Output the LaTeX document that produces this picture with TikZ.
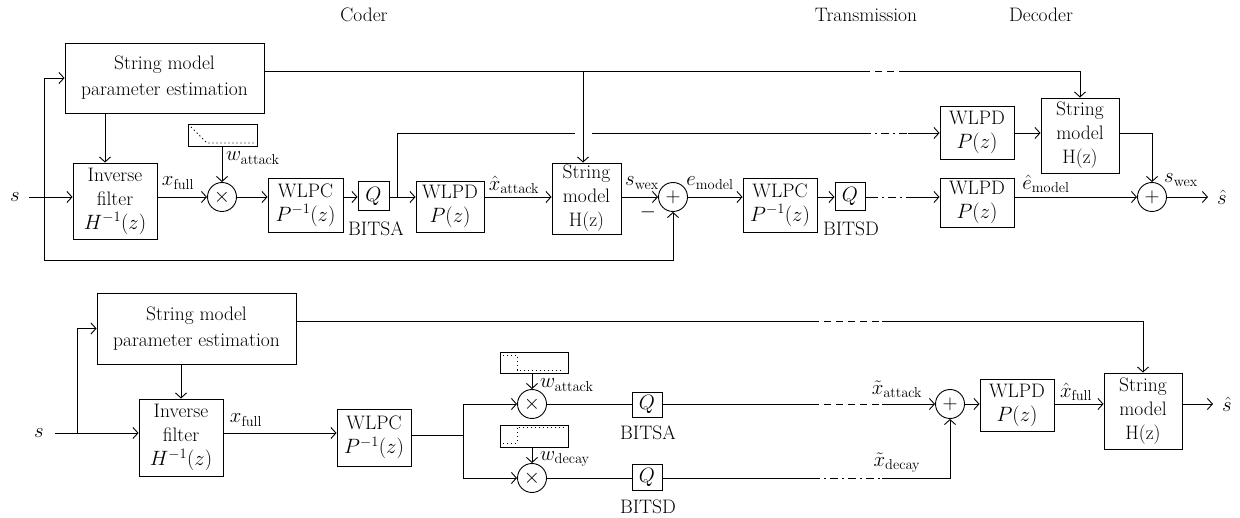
\documentclass[tikz,border=0pt]{standalone}
\usetikzlibrary{arrows.meta}
\newcommand\fsz{\fontsize{19.5}{24}\selectfont}
\tikzset{
 blk/.style={draw, line width=0.9pt, align=center, inner sep=0pt, font=\fsz},
 sumc/.style={circle, draw, line width=0.9pt, minimum size=29pt, inner sep=0pt, font=\fsz},
 lbl/.style={font=\fsz, inner sep=0pt},
 ln/.style={line width=0.9pt},
 arr/.style={ln, -{Straight Barb[length=5pt,width=11pt]}},
 dsh/.style={ln, dash pattern=on 7pt off 5pt},
 dshdot/.style={ln, dash pattern=on 8pt off 4pt on 2pt off 4pt},
 dots/.style={line width=0.9pt, dash pattern=on 1.2pt off 2.8pt},
}
\begin{document}
\begin{tikzpicture}[x=1pt,y=-1pt]
\useasboundingbox (0,0) rectangle (1240,518);

% titles
\node[lbl] (tcoder) at (364,15) {Coder};
\node[lbl] (ttrans) at (866,15) {Transmission};
\node[lbl] (tdec) at (1041,15) {Decoder};

% ===== top diagram =====
\node[blk, minimum width=199pt, minimum height=70pt] (pe1) at (164.5,78) {String model\\[2pt]parameter estimation};
\node[blk, minimum width=84pt, minimum height=76pt] (inv1) at (115,201) {Inverse\\filter\\$H^{-1}(z)$};
\node[blk, minimum width=69pt, minimum height=22pt] (win1) at (222.5,135) {};
\node[sumc] (mul1) at (222,197) {$\times$};
\node[blk, minimum width=75pt, minimum height=54pt] (wlpc1) at (305.5,205) {WLPC\\$P^{-1}(z)$};
\node[blk, minimum width=31pt, minimum height=29pt] (q1) at (373.5,196) {$Q$};
\node[lbl] (bitsa1) at (376,229) {BITSA};
\node[blk, minimum width=68pt, minimum height=51pt] (wlpd1) at (450,206.5) {WLPD\\$P(z)$};
\node[blk, minimum width=69pt, minimum height=71pt] (sm1) at (586.5,198.5) {String\\model\\H(z)};
\node[sumc] (add1) at (673,197) {$+$};
\node[blk, minimum width=74pt, minimum height=54pt] (wlpc2) at (780,205) {WLPC\\$P^{-1}(z)$};
\node[blk, minimum width=30pt, minimum height=28pt] (q2) at (850,196) {$Q$};
\node[lbl] (bitsd1) at (851,229) {BITSD};
\node[blk, minimum width=74pt, minimum height=53pt] (dwlpd1) at (977,132.5) {WLPD\\$P(z)$};
\node[blk, minimum width=78pt, minimum height=75pt] (dsm) at (1080,135.5) {String\\model\\H(z)};
\node[blk, minimum width=74pt, minimum height=49pt] (dwlpd2) at (977,202.5) {WLPD\\$P(z)$};
\node[sumc] (dadd) at (1152,197) {$+$};
\node[lbl] (sin1) at (15,197) {$s$};
\node[lbl] (sout1) at (1222,197) {$\hat s$};

% labels
\node[lbl] (lxf1) at (178,183) {$x_{\mathrm{full}}$};
\node[lbl, anchor=west] (lwa1) at (226,158) {$w_{\mathrm{attack}}$};
\node[lbl] (lxa1) at (514,185) {$\hat{x}_{\mathrm{attack}}$};
\node[lbl] (lsw1) at (642,183) {$s_{\mathrm{wex}}$};
\node[lbl] (lmin) at (648,212) {$-$};
\node[lbl] (lem1) at (710,183) {$e_{\mathrm{model}}$};
\node[lbl] (lem2) at (1046,184) {$\hat{e}_{\mathrm{model}}$};
\node[lbl] (lsw2) at (1181,180) {$s_{\mathrm{wex}}$};

% coordinates
\coordinate (s1a) at (29,197);
\coordinate (br1) at (44,197);
\coordinate (fb1) at (44,260);
\coordinate (o1) at (1208,197);
\coordinate (br2) at (397,197);
\coordinate (u2) at (397,133);
\coordinate (g1) at (575,133);
\coordinate (g2) at (592,133);
\coordinate (t2a) at (863,133);
\coordinate (t2b) at (908,133);
\coordinate (t1a) at (863,71);
\coordinate (t1b) at (903,71);
\coordinate (j1) at (583,71);
\coordinate (t3a) at (870,197);
\coordinate (t3b) at (908,197);

% window
\draw[dots] (191,127) -- (207,143) -- (254,143);

% connectors
\draw[arr] (s1a) -- (inv1.west |- s1a);
\draw[arr] (br1) |- (pe1.west);
\draw[arr] (br1) -- (fb1) -| (add1.south);
\draw[arr] ([xshift=-59.5pt]pe1.south) -- ([xshift=-10pt]inv1.north);
\draw[arr] (inv1.east |- mul1) -- (mul1);
\draw[arr] (win1.south -| mul1) -- (mul1);
\draw[arr] (mul1) -- (wlpc1.west |- mul1);
\draw[arr] (wlpc1.east |- mul1) -- (q1.west |- mul1);
\draw[arr] (q1.east |- mul1) -- (wlpd1.west |- mul1);
\draw[arr] (wlpd1.east |- mul1) -- (sm1.west |- mul1);
\draw[arr] (sm1.east |- add1) -- (add1);
\draw[arr] (add1) -- (wlpc2.west |- add1);
\draw[arr] (wlpc2.east |- add1) -- (q2.west |- add1);
\draw[ln] (q2.east |- add1) -- (t3a);
\draw[dshdot] (t3a) -- (t3b);
\draw[arr] (t3b) -- (dwlpd2.west |- t3b);
\draw[arr] (dwlpd2.east |- dadd) -- (dadd);
\draw[arr] (dadd) -- (o1);

\draw[ln] (pe1.east |- t1a) -- (t1a);
\draw[dsh] (t1a) -- (t1b);
\draw[arr] (t1b) -| (dsm.north);
\draw[arr] (j1) -- (j1 |- sm1.north);

\draw[ln] (br2) -- (u2) -- (g1);
\draw[ln] (g2) -- (t2a);
\draw[dshdot] (t2a) -- (t2b);
\draw[arr] (t2b) -- (dwlpd1.west |- t2b);
\draw[arr] (dwlpd1.east |- t2b) -- (dsm.west |- t2b);
\draw[arr] (dsm.east |- t2b) -| (dadd.north);

% ===== bottom diagram =====
\node[blk, minimum width=199pt, minimum height=71pt] (pe2) at (196.5,328.5) {String model\\[2pt]parameter estimation};
\node[blk, minimum width=84pt, minimum height=77pt] (inv2) at (181,437.5) {Inverse\\filter\\$H^{-1}(z)$};
\node[blk, minimum width=74pt, minimum height=57pt] (wlpc3) at (374,437.5) {WLPC\\$P^{-1}(z)$};
\node[sumc] (mulA) at (532,404) {$\times$};
\node[sumc] (mulD) at (532,478) {$\times$};
\node[blk, minimum width=68pt, minimum height=21pt] (winA) at (534,362.5) {};
\node[blk, minimum width=68pt, minimum height=22pt] (winD) at (534,436) {};
\node[blk, minimum width=30pt, minimum height=25pt] (qA) at (647,404.5) {$Q$};
\node[blk, minimum width=30pt, minimum height=26pt] (qD) at (647,477) {$Q$};
\node[sumc] (addB) at (950,404) {$+$};
\node[blk, minimum width=74pt, minimum height=52pt] (wlpdB) at (1017,405) {WLPD\\$P(z)$};
\node[blk, minimum width=78pt, minimum height=76pt] (smB) at (1143,411) {String\\model\\H(z)};
\node[lbl] (sin2) at (39,433) {$s$};
\node[lbl] (sout2) at (1227,404) {$\hat s$};

\node[lbl] (lxf2) at (246,420) {$x_{\mathrm{full}}$};
\node[lbl, anchor=west] (lwa2) at (540,385) {$w_{\mathrm{attack}}$};
\node[lbl, anchor=west] (lwd2) at (540,459) {$w_{\mathrm{decay}}$};
\node[lbl] (bitsa2) at (648,433) {BITSA};
\node[lbl] (bitsd2) at (648,507) {BITSD};
\node[lbl] (lxa2) at (897,389) {$\tilde{x}_{\mathrm{attack}}$};
\node[lbl] (lxd2) at (897,463) {$\tilde{x}_{\mathrm{decay}}$};
\node[lbl] (lxfh) at (1076,392) {$\hat{x}_{\mathrm{full}}$};

\coordinate (s2a) at (55,433);
\coordinate (br3) at (77,433);
\coordinate (br4) at (463,435);
\coordinate (t4a) at (812,404);
\coordinate (t4b) at (882,404);
\coordinate (t5a) at (812,478);
\coordinate (t5b) at (882,478);
\coordinate (t6a) at (812,321);
\coordinate (t6b) at (882,321);
\coordinate (o2) at (1213,404);

\draw[dots] (503,355) -- (517,355) -- (517,370) -- (564,370);
\draw[dots] (503,443) -- (517,443) -- (517,427) -- (564,427);

\draw[arr] (s2a) -- (inv2.west |- s2a);
\draw[arr] (br3) |- (pe2.west);
\draw[arr] (inv2.north |- pe2.south) -- (inv2.north);
\draw[arr] (inv2.east |- s2a) -- (wlpc3.west |- s2a);
\draw[ln] (wlpc3.east |- br4) -- (br4);
\draw[arr] (br4) |- (mulA);
\draw[arr] (br4) |- (mulD);
\draw[arr] (winA.south -| mulA) -- (mulA);
\draw[arr] (winD.south -| mulD) -- (mulD);
\draw[ln] (mulA) -- (qA.west |- mulA);
\draw[ln] (mulD) -- (qD.west |- mulD);
\draw[ln] (qA.east |- t4a) -- (t4a);
\draw[dsh] (t4a) -- (t4b);
\draw[arr] (t4b) -- (addB);
\draw[ln] (qD.east |- t5a) -- (t5a);
\draw[dshdot] (t5a) -- (t5b);
\draw[arr] (t5b) -| (addB.south);
\draw[arr] (addB) -- (wlpdB.west |- addB);
\draw[arr] (wlpdB.east |- addB) -- (smB.west |- addB);
\draw[arr] (smB.east |- addB) -- (o2);
\draw[ln] (pe2.east |- t6a) -- (t6a);
\draw[dsh] (t6a) -- (t6b);
\draw[arr] (t6b) -| (smB.north);
\end{tikzpicture}
\end{document}
